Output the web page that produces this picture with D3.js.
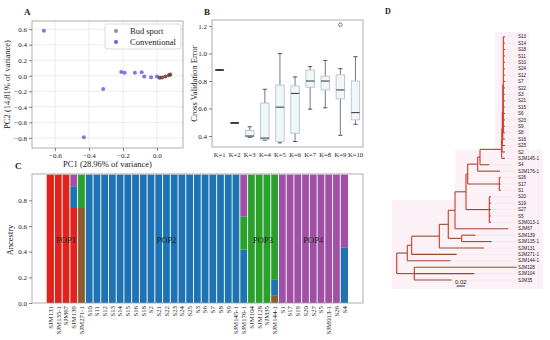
<!DOCTYPE html>
<html><head><meta charset="utf-8">
<script src="https://cdn.jsdelivr.net/npm/d3@7"></script>
<style>
body{margin:0;background:#fff}
svg{display:block}
text{font-family:"Liberation Serif","DejaVu Serif",serif;fill:#222}
</style>
</head><body>
<svg id="chart" width="550" height="340"></svg>
<script>
// ---------- Panel A: PCA ----------
const convX = [-0.665, -0.43, -0.316, -0.21, -0.19, -0.13, -0.09, -0.075, -0.035, 0.0];
const convY = [0.58, -0.79, -0.17, 0.05, 0.04, 0.04, 0.045, -0.01, -0.02, -0.01];
const budX = [0.015, 0.03, 0.05, 0.07, 0.078];
const budY = [-0.025, -0.022, -0.01, 0.008, 0.015];
const pcaXTicks = [-0.6, -0.4, -0.2, 0.0];
const pcaYTicks = [0.6, 0.4, 0.2, 0.0, -0.2, -0.4, -0.6, -0.8];

// ---------- Panel B: CV error boxplots ----------
const kLabels = ["K=1","K=2","K=3","K=4","K=5","K=6","K=7","K=8","K=9","K=10"];
const cvMin = [0.878, 0.493, 0.39, 0.37, 0.35, 0.36, 0.595, 0.605, 0.405, 0.485];
const cvQ1  = [0.879, 0.494, 0.395, 0.375, 0.36, 0.42, 0.755, 0.735, 0.67, 0.517];
const cvMed = [0.880, 0.495, 0.40, 0.385, 0.61, 0.71, 0.80, 0.80, 0.735, 0.57];
const cvQ3  = [0.882, 0.497, 0.44, 0.64, 0.77, 0.765, 0.88, 0.836, 0.845, 0.80];
const cvMax = [0.884, 0.498, 0.467, 0.74, 1.0, 0.83, 0.905, 0.95, 0.89, 0.977];
const cvOutliers = [[], [], [], [], [], [], [], [], [1.21], []];
const cvTicks = [0.4, 0.6, 0.8, 1.0, 1.2];

// ---------- Panel C: ancestry ----------
const samples = ["SJM131","SJM135-1","SJM67","SJM139","SJM271-1",
  "S10","S11","S12","S13","S14","S15","S16","S18","S2","S21","S22","S23","S24","S25","S3","S6","S7","S8","S9","SJM145-1","SJM176-1",
  "SJM104","SJM128","SJM35","SJM144-1",
  "S1","S17","S19","S20","S27","S5","SJM013-1","S26","S4"];
const ancBrown  = [0,0,0,0,0.74, 0,0,0,0,0,0,0,0,0,0,0,0,0,0,0,0,0,0,0,0,0, 0,0,0,0.056, 0,0,0,0,0,0,0,0,0];
const ancRed    = [1,1,1,0.74,0, 0,0,0,0,0,0,0,0,0,0,0,0,0,0,0,0,0,0,0,0,0, 0,0,0,0, 0,0,0,0,0,0,0,0,0];
const ancBlue   = [0,0,0,0.17,0, 1,1,1,1,1,1,1,1,1,1,1,1,1,1,1,1,1,1,1,1,0.415, 0,0,0,0.124, 0,0,0,0,0,0,0,0,0.43];
const ancGreen  = [0,0,0,0,0.26, 0,0,0,0,0,0,0,0,0,0,0,0,0,0,0,0,0,0,0,0,0.26, 1,1,1,0.82, 0,0,0,0,0,0,0,0,0];
const ancPurple = [0,0,0,0.09,0, 0,0,0,0,0,0,0,0,0,0,0,0,0,0,0,0,0,0,0,0,0.325, 0,0,0,0, 1,1,1,1,1,1,1,1,0.57];
const popNames = ["POP1","POP2","POP3","POP4"];
const popFirst = ["SJM131","S10","SJM104","S1"];
const popLast  = ["SJM271-1","SJM176-1","SJM144-1","S4"];
const ancTicks = [0.0, 0.2, 0.4, 0.6, 0.8];

// ---------- Panel D: tree (node, parent, branch length) ----------
const treeEdges = [
 ["root","",0],
 ["n9","root",0.0255],["n8","n9",0.0106],["n7","n8",0.0666],["n6","n7",0.0216],
 ["n5","n6",0.0162],["n4","n5",0.0265],["n3","n4",0.0041],["n1","n3",0.0241],
 ["n2","n1",0.0055],["l5","n2",0.0523],["l4","l5",0.0005],["l3","l4",0.001],
 ["l2","l3",0.0012],["l1","l2",0.0012],
 ["S13","l1",0.0041],["S14","l1",0.0041],["S18","l1",0.0041],["S11","l1",0.0041],
 ["S10","l1",0.0041],["S24","l1",0.0041],["S12","l1",0.0041],["S7","l1",0.0041],
 ["S22","l1",0.0041],["S3","l1",0.0041],["S21","l1",0.0041],["S15","l1",0.0041],
 ["S6","l1",0.0041],["S23","l1",0.0041],["S9","l1",0.0041],["S8","l1",0.0041],
 ["S16","l2",0.0053],["S25","l3",0.0065],["S2","l4",0.0075],["SJM145-1","l5",0.008],
 ["S4","n2",0.0224],["SJM176-1","n1",0.0538],
 ["c1","n3",0.0761],["S26","c1",0.0034],["S17","c1",0.0034],["S1","c1",0.0034],
 ["c2","n4",0.0561],["S20","c2",0.0041],["S19","c2",0.0041],["S27","c2",0.0041],["S5","c2",0.0041],["SJM013-1","c2",0.0041],
 ["SJM67","n5",0.1284],
 ["c3","n6",0.0323],["SJM139","c3",0.0334],["SJM135-1","c3",0.0723],
 ["SJM131","n7",0.1077],["SJM271-1","n8",0.1085],["SJM144-1","n9",0.1045],
 ["n11","root",0.0424],["SJM128","n11",0.2466],["SJM104","n11",0.1446],["SJM35","n11",0.0901]
];
const scaleBarLen = 0.02;

const svg = d3.select("#chart");
const minusFmt = d3.format(".1f");

function styleAxis(g, fs){
  g.select(".domain").remove();
  g.selectAll(".tick line").attr("stroke","#333").attr("stroke-width",0.6);
  g.selectAll(".tick text").attr("font-size",fs).attr("fill","#222")
    .style("font-family",'"Liberation Serif","DejaVu Serif",serif');
}

// ================= A =================
(function(){
  const L=32,R=183,T=21,B=148;
  const x = d3.scaleLinear().domain([-0.735,0.153]).range([L,R]);
  const y = d3.scaleLinear().domain([-0.93,0.705]).range([B,T]);
  const g = svg.append("g");
  g.selectAll(".gx").data(pcaXTicks).join("line").attr("x1",d=>x(d)).attr("x2",d=>x(d))
    .attr("y1",T).attr("y2",B).attr("stroke","#e4e4e4").attr("stroke-width",0.7);
  g.selectAll(".gy").data(pcaYTicks).join("line").attr("y1",d=>y(d)).attr("y2",d=>y(d))
    .attr("x1",L).attr("x2",R).attr("stroke","#e4e4e4").attr("stroke-width",0.7);
  g.append("rect").attr("x",L).attr("y",T).attr("width",R-L).attr("height",B-T)
    .attr("fill","none").attr("stroke","#999").attr("stroke-width",0.8);
  g.append("g").attr("transform",`translate(0,${B})`)
    .call(d3.axisBottom(x).tickValues(pcaXTicks).tickFormat(minusFmt).tickSize(3).tickPadding(2))
    .call(a=>styleAxis(a,7));
  g.append("g").attr("transform",`translate(${L},0)`)
    .call(d3.axisLeft(y).tickValues(pcaYTicks).tickFormat(minusFmt).tickSize(3).tickPadding(2))
    .call(a=>styleAxis(a,7));
  const conv = convX.map((v,i)=>[v,convY[i]]);
  const bud = budX.map((v,i)=>[v,budY[i]]);
  g.selectAll(".cv").data(conv).join("circle").attr("cx",d=>x(d[0])).attr("cy",d=>y(d[1]))
    .attr("r",2).attr("fill","#6f5de0").attr("opacity",0.85);
  g.selectAll(".bd").data(bud).join("circle").attr("cx",d=>x(d[0])).attr("cy",d=>y(d[1]))
    .attr("r",2).attr("fill","#6b3a30").attr("opacity",0.85);
  // legend
  g.append("rect").attr("x",105).attr("y",24).attr("width",76).attr("height",25).attr("rx",2)
    .attr("fill","#fff").attr("stroke","#ccc").attr("stroke-width",0.7);
  g.append("circle").attr("cx",116).attr("cy",31).attr("r",2).attr("fill","#b98070");
  g.append("circle").attr("cx",116).attr("cy",42).attr("r",2).attr("fill","#6f5de0");
  g.append("text").attr("x",130).attr("y",34).attr("font-size",8.5).text("Bud sport");
  g.append("text").attr("x",130).attr("y",45).attr("font-size",8.5).text("Conventional");
  g.append("text").attr("x",(L+R)/2).attr("y",167).attr("text-anchor","middle").attr("font-size",8.5)
    .text("PC1 (28.96% of variance)");
  g.append("text").attr("transform",`translate(10,${(T+B)/2}) rotate(-90)`).attr("text-anchor","middle")
    .attr("font-size",8.5).text("PC2 (14.81% of variance)");
  g.append("text").attr("x",24).attr("y",15).attr("font-size",9).attr("font-weight","bold").text("A");
})();

// ================= B =================
(function(){
  const L=212,R=363,T=20,B=147;
  const x = d3.scaleBand().domain(kLabels).range([L,R]).padding(0);
  const y = d3.scaleLinear().domain([0.32,1.244]).range([B,T]);
  const g = svg.append("g");
  g.append("rect").attr("x",L).attr("y",T).attr("width",R-L).attr("height",B-T)
    .attr("fill","none").attr("stroke","#999").attr("stroke-width",0.8);
  g.append("g").attr("transform",`translate(0,${B})`)
    .call(d3.axisBottom(x).tickSize(0).tickPadding(5)).call(a=>styleAxis(a,6.6));
  g.append("g").attr("transform",`translate(${L},0)`)
    .call(d3.axisLeft(y).tickValues(cvTicks).tickFormat(minusFmt).tickSize(3).tickPadding(2))
    .call(a=>styleAxis(a,7));
  const bw = x.bandwidth()*0.56, cw = bw*0.5;
  const data = kLabels.map((k,i)=>({k,min:cvMin[i],q1:cvQ1[i],med:cvMed[i],q3:cvQ3[i],max:cvMax[i],out:cvOutliers[i]}));
  const bx = g.selectAll(".bx").data(data).join("g");
  const cx = d=>x(d.k)+x.bandwidth()/2;
  bx.append("line").attr("x1",cx).attr("x2",cx).attr("y1",d=>y(d.max)).attr("y2",d=>y(d.q3)).attr("stroke","#555").attr("stroke-width",0.8);
  bx.append("line").attr("x1",cx).attr("x2",cx).attr("y1",d=>y(d.q1)).attr("y2",d=>y(d.min)).attr("stroke","#555").attr("stroke-width",0.8);
  bx.append("line").attr("x1",d=>cx(d)-cw/2).attr("x2",d=>cx(d)+cw/2).attr("y1",d=>y(d.max)).attr("y2",d=>y(d.max)).attr("stroke","#444").attr("stroke-width",0.9);
  bx.append("line").attr("x1",d=>cx(d)-cw/2).attr("x2",d=>cx(d)+cw/2).attr("y1",d=>y(d.min)).attr("y2",d=>y(d.min)).attr("stroke","#444").attr("stroke-width",0.9);
  bx.append("rect").attr("x",d=>cx(d)-bw/2).attr("width",bw).attr("y",d=>y(d.q3)).attr("height",d=>Math.max(0.5,y(d.q1)-y(d.q3)))
    .attr("fill","#f1f6f7").attr("stroke","#a9bdd6").attr("stroke-width",0.8);
  bx.append("line").attr("x1",d=>cx(d)-bw/2).attr("x2",d=>cx(d)+bw/2).attr("y1",d=>y(d.med)).attr("y2",d=>y(d.med))
    .attr("stroke","#333").attr("stroke-width",d=>(d.q3-d.q1)<0.01?1.8:1);
  bx.selectAll(".o").data(d=>d.out.map(v=>({v,d}))).join("circle").attr("cx",o=>cx(o.d)).attr("cy",o=>y(o.v))
    .attr("r",1.8).attr("fill","none").attr("stroke","#444").attr("stroke-width",0.7);
  g.append("text").attr("transform",`translate(197,${(T+B)/2}) rotate(-90)`).attr("text-anchor","middle")
    .attr("font-size",8.5).text("Cross Validation Error");
  g.append("text").attr("x",204).attr("y",15).attr("font-size",9).attr("font-weight","bold").text("B");
})();

// ================= C =================
(function(){
  const L=32,R=363,T=174,B=303;
  const x = d3.scaleBand().domain(samples).range([46.7,348]).padding(0);
  const y = d3.scaleLinear().domain([0,1.005]).range([B,T]);
  const rows = samples.map((s,i)=>({s,brown:ancBrown[i],red:ancRed[i],blue:ancBlue[i],green:ancGreen[i],purple:ancPurple[i]}));
  const keys = ["brown","red","blue","green","purple"];
  const colors = {brown:"#8e5a2a",red:"#e4221b",blue:"#1f73b3",green:"#2ba12c",purple:"#a34fa6"};
  const stacked = d3.stack().keys(keys)(rows);
  const g = svg.append("g");
  g.selectAll(".ly").data(stacked).join("g").attr("fill",d=>colors[d.key])
    .selectAll("rect").data(d=>d).join("rect")
    .attr("x",d=>x(d.data.s)).attr("width",x.bandwidth())
    .attr("y",d=>y(d[1])).attr("height",d=>y(d[0])-y(d[1]));
  g.selectAll(".sep").data(samples.slice(1)).join("line")
    .attr("x1",d=>x(d)).attr("x2",d=>x(d)).attr("y1",y(1)).attr("y2",B)
    .attr("stroke","#dff6f8").attr("stroke-width",1);
  g.append("rect").attr("x",L).attr("y",T).attr("width",R-L).attr("height",B-T)
    .attr("fill","none").attr("stroke","#999").attr("stroke-width",0.8);
  g.append("g").attr("transform",`translate(${L},0)`)
    .call(d3.axisLeft(y).tickValues(ancTicks).tickFormat(minusFmt).tickSize(3).tickPadding(2))
    .call(a=>styleAxis(a,7));
  g.append("g").attr("transform",`translate(0,${B})`)
    .call(d3.axisBottom(x).tickSize(0).tickPadding(3))
    .call(a=>{
      styleAxis(a,6.8);
      a.selectAll(".tick text").attr("transform","rotate(-90)").attr("text-anchor","end")
        .attr("x",-3).attr("y",0).attr("dy","0.35em");
    });
  popNames.forEach((p,i)=>{
    const cx = (x(popFirst[i]) + x(popLast[i]) + x.bandwidth())/2;
    g.append("text").attr("x",cx).attr("y",y(0.47)).attr("text-anchor","middle")
      .attr("font-size",8.5).attr("fill","#1a1a2e").text(p);
  });
  g.append("text").attr("transform",`translate(13,240) rotate(-90)`).attr("text-anchor","middle")
    .attr("font-size",8.5).text("Ancestry");
  g.append("text").attr("x",15).attr("y",169).attr("font-size",9).attr("font-weight","bold").text("C");
})();

// ================= D =================
(function(){
  const g = svg.append("g");
  // faint halo background behind tree
  g.append("rect").attr("x",495).attr("y",32).attr("width",34).attr("height",125).attr("fill","#fdf1f8");
  g.append("rect").attr("x",455).attr("y",150).attr("width",88).attr("height",55).attr("fill","#fdf1f8");
  g.append("rect").attr("x",392).attr("y",200).attr("width",151).attr("height",89).attr("fill","#fdf1f8");

  const root = d3.stratify().id(d=>d[0]).parentId(d=>d[1]||null)(treeEdges);
  root.eachBefore(d=>{ d.len = (d.parent?d.parent.len:0) + d.data[2]; });
  const leaves = root.leaves();
  const x = d3.scaleLinear().domain([0,0.3]).range([396.7,396.7+0.3*415]);
  const yLeaf = d3.scalePoint().domain(leaves.map(d=>d.id)).range([36.7,280]);
  root.eachAfter(d=>{
    if(!d.children) d.y = yLeaf(d.id);
    else d.y = (d.children[0].y + d.children[d.children.length-1].y)/2;
  });
  const labelX = 518;
  g.selectAll(".ld").data(leaves).join("line")
    .attr("x1",d=>x(d.len)+1).attr("x2",labelX-1).attr("y1",d=>d.y).attr("y2",d=>d.y)
    .attr("stroke","#e6dede").attr("stroke-width",0.4);
  g.selectAll(".h").data(root.descendants().filter(d=>d.parent)).join("line")
    .attr("x1",d=>x(d.parent.len)).attr("x2",d=>x(d.len)).attr("y1",d=>d.y).attr("y2",d=>d.y)
    .attr("stroke","#9a4a2c").attr("stroke-width",1.1);
  g.selectAll(".v").data(root.descendants().filter(d=>d.children)).join("line")
    .attr("x1",d=>x(d.len)).attr("x2",d=>x(d.len))
    .attr("y1",d=>d.children[0].y).attr("y2",d=>d.children[d.children.length-1].y)
    .attr("stroke","#cc3a22").attr("stroke-width",1.1);
  g.selectAll(".lt").data(leaves).join("text")
    .attr("x",labelX).attr("y",d=>d.y).attr("dy","0.35em").attr("font-size",4.6)
    .attr("fill","#c2705c").style("font-family","'Liberation Sans','DejaVu Sans',sans-serif").text(d=>d.id);
  const sb0 = x(0.1443), sb1 = x(0.1443+scaleBarLen);
  g.append("line").attr("x1",sb0).attr("x2",sb1).attr("y1",286).attr("y2",286).attr("stroke","#333").attr("stroke-width",1);
  g.append("text").attr("x",(sb0+sb1)/2).attr("y",284).attr("text-anchor","middle").attr("font-size",6)
    .style("font-family","'Liberation Sans','DejaVu Sans',sans-serif").text("0.02");
  g.append("text").attr("x",385).attr("y",14).attr("font-size",8).attr("font-weight","bold").text("D");
})();
</script>
</body></html>
